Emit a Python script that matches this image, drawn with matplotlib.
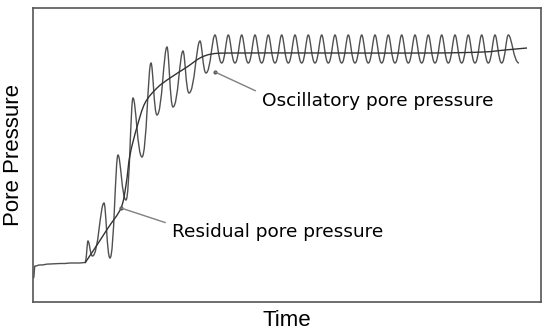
import matplotlib
matplotlib.use('Agg')
import matplotlib.pyplot as plt
from matplotlib.path import Path
from matplotlib.patches import PathPatch

# Oscillatory pore pressure: turning points (time, pressure), arbitrary units
osc_t = [0.5, 2, 7, 17, 27, 32, 37, 47, 52,
         55, 59.5, 71, 77, 85, 93, 100, 109, 118, 124, 134, 140, 150, 156, 167, 173,
         182, 188.7, 195.3, 202, 208.7, 215.3, 222, 228.7, 235.3, 242, 248.7, 255.3,
         262, 268.7, 275.3, 282, 288.7, 295.3, 302, 308.7, 315.3, 322, 328.7, 335.3,
         342, 348.7, 355.3, 362, 368.7, 375.3, 382, 388.7, 395.3, 402, 408.7, 415.3,
         422, 428.7, 435.3, 442, 448.7, 455.3, 462, 468.7, 475.3, 486]
osc_p = [24, 36, 37, 38, 38.5, 38.5, 39, 39, 39.5,
         61, 46, 99, 44, 147, 102, 204, 145, 239, 187, 255, 195, 251, 209, 261, 229,
         267, 239, 267, 239, 267, 239, 267, 239, 267, 239, 267, 239,
         267, 239, 267, 239, 267, 239, 267, 239, 267, 239, 267, 239,
         267, 239, 267, 239, 267, 239, 267, 239, 267, 239, 267, 239,
         267, 239, 267, 239, 267, 239, 267, 239, 267, 239]

# Residual pore pressure
res_t = [52, 64, 75, 88, 93, 97, 104, 112, 124, 137, 154, 167, 179, 200, 300, 400, 450, 472, 494]
res_p = [39, 57, 74, 94, 117, 147, 175, 199, 214, 224, 235, 244, 248, 249, 249, 249, 250, 252, 254]

x_label = "Time"
y_label = "Pore Pressure"
osc_label = "Oscillatory pore pressure"
res_label = "Residual pore pressure"


def extrema_path(t, p, k_peak=0.32, k_trough=0.5):
    # smooth curve through turning points: narrow crests, broad troughs
    n = len(t)
    def k_at(i):
        lo = p[i - 1] if i > 0 else p[i]
        hi = p[i + 1] if i < n - 1 else p[i]
        if p[i] >= lo and p[i] >= hi and p[i] > 60:
            return k_peak
        return k_trough
    verts = [(t[0], p[0])]
    codes = [Path.MOVETO]
    for i in range(1, n):
        dt = t[i] - t[i - 1]
        verts += [(t[i - 1] + dt * k_at(i - 1), p[i - 1]),
                  (t[i] - dt * k_at(i), p[i]), (t[i], p[i])]
        codes += [Path.CURVE4] * 3
    return Path(verts, codes)


def catmull_path(t, p):
    n = len(t)
    verts = [(t[0], p[0])]
    codes = [Path.MOVETO]
    for i in range(n - 1):
        t0, p0 = (t[i - 1], p[i - 1]) if i > 0 else (t[i], p[i])
        t3, p3 = (t[i + 2], p[i + 2]) if i + 2 < n else (t[i + 1], p[i + 1])
        c1 = (t[i] + (t[i + 1] - t0) / 6, p[i] + (p[i + 1] - p0) / 6)
        c2 = (t[i + 1] - (t3 - t[i]) / 6, p[i + 1] - (p3 - p[i]) / 6)
        verts += [c1, c2, (t[i + 1], p[i + 1])]
        codes += [Path.CURVE4] * 3
    return Path(verts, codes)


fig = plt.figure(figsize=(5.5, 3.32), dpi=100)
ax = fig.add_axes([33 / 550, 30 / 332, 508 / 550, 294 / 332])
ax.set_xlim(0, 508)
ax.set_ylim(0, 294)
ax.set_xticks([])
ax.set_yticks([])
for s in ax.spines.values():
    s.set_color('#555555')
    s.set_linewidth(1.2)

ax.add_patch(PathPatch(extrema_path(osc_t, osc_p), fill=False, ec='#505050', lw=1.0))
ax.add_patch(PathPatch(catmull_path(res_t, res_p), fill=False, ec='#333333', lw=1.0))

tfont = dict(family=['DejaVu Sans'], size=13.3, color='#000000')
ax.annotate(osc_label, xy=(182, 230), xytext=(229, 201), textcoords='data',
            ha='left', va='center', **tfont,
            arrowprops=dict(arrowstyle='-', color='#808080', lw=1.0,
                            relpos=(0, 0.9), shrinkA=3, shrinkB=0))
ax.annotate(res_label, xy=(88, 94), xytext=(139, 70), textcoords='data',
            ha='left', va='center', **tfont,
            arrowprops=dict(arrowstyle='-', color='#808080', lw=1.0,
                            relpos=(0, 0.9), shrinkA=3, shrinkB=0))
ax.plot([182, 88], [230, 94], 'o', ms=2, color='#555555', ls='none')

lfont = dict(family=['Liberation Sans', 'DejaVu Sans'], size=16)
ax.set_xlabel(x_label, fontdict=lfont)
ax.set_ylabel(y_label, fontdict=lfont)
ax.xaxis.set_label_coords(0.5, -0.028)
ax.yaxis.set_label_coords(-0.018, 0.5)

fig.savefig('out.png', dpi=100)
